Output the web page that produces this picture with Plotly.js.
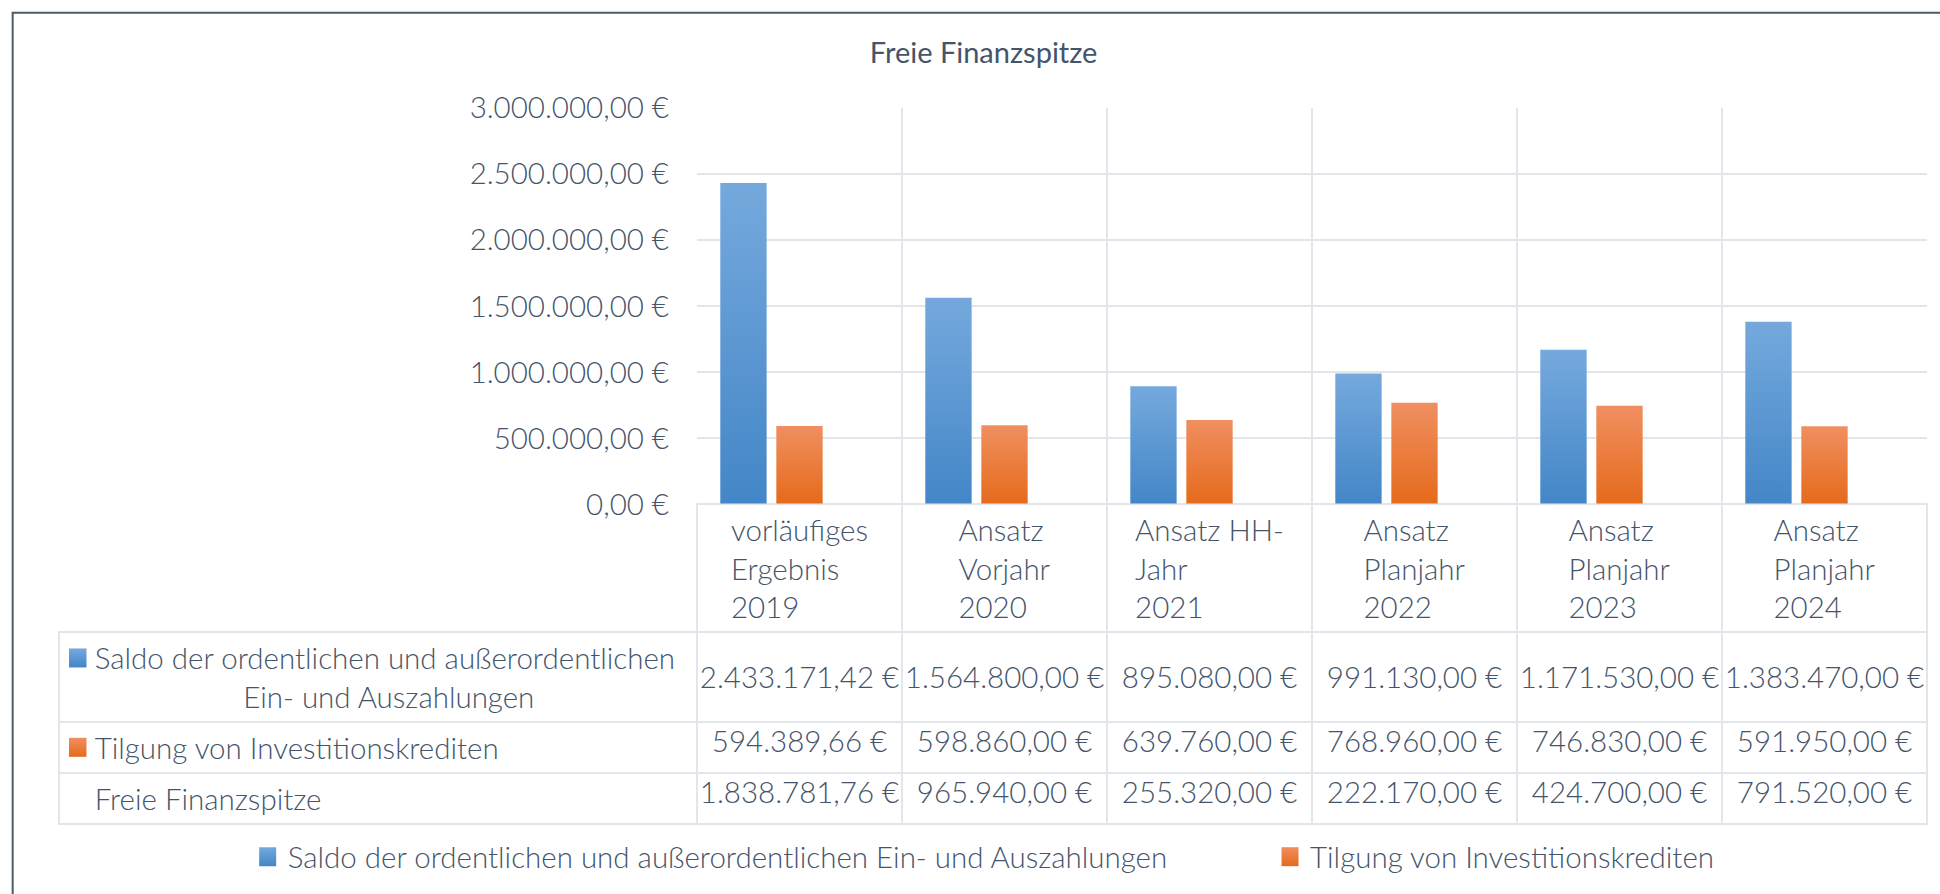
<!DOCTYPE html>
<html>
<head>
<meta charset="utf-8">
<script src="https://cdn.plot.ly/plotly-3.0.1.min.js"></script>
<style>
  html, body { margin: 0; padding: 0; background: #ffffff; }
  #chart { width: 1940px; height: 894px; }
</style>
</head>
<body>
<div id="chart"></div>
<script>
// ---------- data ----------
const categories = [
  'vorläufiges<br>Ergebnis<br>2019',
  'Ansatz<br>Vorjahr<br>2020',
  'Ansatz HH-<br>Jahr<br>2021',
  'Ansatz<br>Planjahr<br>2022',
  'Ansatz<br>Planjahr<br>2023',
  'Ansatz<br>Planjahr<br>2024'
];
const seriesNames = [
  'Saldo der ordentlichen und außerordentlichen Ein- und Auszahlungen',
  'Tilgung von Investitionskrediten',
  'Freie Finanzspitze'
];
const tableRowLabels = [
  ['Saldo der ordentlichen und außerordentlichen', 'Ein- und Auszahlungen'],
  ['Tilgung von Investitionskrediten'],
  ['Freie Finanzspitze']
];
const saldo   = [2433171.42, 1564800.00, 895080.00, 991130.00, 1171530.00, 1383470.00];
const tilgung = [594389.66, 598860.00, 639760.00, 768960.00, 746830.00, 591950.00];
const freie   = [1838781.76, 965940.00, 255320.00, 222170.00, 424700.00, 791520.00];
const yTickVals = [0, 500000, 1000000, 1500000, 2000000, 2500000, 3000000];
const chartTitle = 'Freie Finanzspitze';

// ---------- styles ----------
const FONT = 'Lato, "Open Sans", sans-serif';
const FS = 29.5;
const TXT = '#44546a';
const GRID = '#e2e6eb';
const BLUE = '#5b9bd5';
const ORANGE = '#ed7d31';
const NB = '\u00a0';

function fmtEUR(v) {
  const s = v.toFixed(2);
  let [i, d] = s.split('.');
  i = i.replace(/\B(?=(\d{3})+(?!\d))/g, '.');
  return i + ',' + d + NB + '€';
}

const keyColors = [BLUE, ORANGE, 'rgba(0,0,0,0)'];
const line2Indent = NB.repeat(22);
const rowLabelCells = tableRowLabels.map((lines, k) => {
  const key = '<span style="fill:' + keyColors[k] + '">■</span>' + NB + '\u200A';
  const l = lines.map(t => t.replace(/ /g, NB));
  return key + l[0] + (l.length > 1 ? '<br>' + line2Indent + l[1] : '<br>');
});

const seriesValues = [saldo, tilgung, freie];
const tableColumns = [rowLabelCells].concat(
  categories.map((c, j) => seriesValues.map(arr => fmtEUR(arr[j])))
);

const data = [
  {
    type: 'bar', name: seriesNames[0], x: categories, y: saldo,
    marker: { color: BLUE, line: { width: 0 } }, legend: 'legend',
    hoverinfo: 'skip'
  },
  {
    type: 'bar', name: seriesNames[1], x: categories, y: tilgung,
    marker: { color: ORANGE, line: { width: 0 } }, legend: 'legend2',
    hoverinfo: 'skip'
  },
  {
    type: 'bar', name: seriesNames[2], x: categories, y: freie,
    marker: { color: 'rgba(0,0,0,0)', line: { width: 0 } }, showlegend: false,
    hoverinfo: 'skip'
  },
  {
    type: 'table',
    domain: { x: [0, 1], y: [0, 0.45317] },
    columnwidth: [638, 205, 205, 205, 205, 205, 205],
    header: {
      values: [''].concat(categories),
      height: 128,
      align: 'center',
      fill: { color: 'rgba(0,0,0,0)' },
      line: { color: ['rgba(0,0,0,0)'].concat(categories.map(() => GRID)), width: 2 },
      font: { family: FONT, size: FS, color: TXT, weight: 300 }
    },
    cells: {
      values: tableColumns,
      height: 47,
      align: ['left'].concat(categories.map(() => 'center')),
      fill: { color: 'rgba(0,0,0,0)' },
      line: { color: GRID, width: 2 },
      font: { family: FONT, size: FS, color: TXT, weight: 300 }
    }
  }
];

const layout = {
  width: 1940, height: 894,
  margin: { l: 59, r: 13, t: 108, b: 60, pad: 0 },
  paper_bgcolor: '#ffffff', plot_bgcolor: 'rgba(0,0,0,0)',
  font: { family: FONT, size: FS, color: TXT, weight: 300 },
  title: {
    text: chartTitle, x: 0.507, xanchor: 'center', y: 0.9407, yanchor: 'middle',
    font: { family: FONT, size: 29, color: TXT, weight: 400 }
  },
  barmode: 'group', bargap: 0.18, bargroupgap: 0.173,
  xaxis: {
    domain: [0.34154, 1], type: 'category', tickson: 'boundaries',
    showgrid: true, gridcolor: GRID, gridwidth: 2,
    showticklabels: false, ticks: '', showline: false, zeroline: false, fixedrange: true
  },
  yaxis: {
    domain: [0.45317, 1], range: [0, 3000000],
    tickmode: 'array', tickvals: yTickVals, ticktext: yTickVals.map(fmtEUR),
    showgrid: true, gridcolor: GRID, gridwidth: 2,
    zeroline: true, zerolinecolor: GRID, zerolinewidth: 2,
    showline: false, ticks: '', ticklabelstandoff: 27,
    tickfont: { family: FONT, size: FS, color: TXT, weight: 300 }, fixedrange: true
  },
  legend: {
    orientation: 'h', x: 0.101, xanchor: 'left', y: -0.0317, yanchor: 'middle',
    font: { family: FONT, size: FS, color: TXT, weight: 300 }, bgcolor: 'rgba(0,0,0,0)'
  },
  legend2: {
    orientation: 'h', x: 0.6483, xanchor: 'left', y: -0.0317, yanchor: 'middle',
    font: { family: FONT, size: FS, color: TXT, weight: 300 }, bgcolor: 'rgba(0,0,0,0)'
  },
  shapes: [{
    type: 'rect', xref: 'paper', yref: 'paper',
    x0: -0.0248, x1: 1.2, y0: -0.2, y1: 1.1313,
    line: { color: '#4e5a6a', width: 2 }, fillcolor: 'rgba(0,0,0,0)', layer: 'below'
  }]
};

const gd = document.getElementById('chart');
const ns = 'http://www.w3.org/2000/svg';
const fills = ['url(#gBlue)', 'url(#gOrange)'];

function addGradients() {
  const svg = gd.querySelector('svg.main-svg');
  if (!svg || document.getElementById('gBlue')) return;
  let defs = svg.querySelector('defs');
  if (!defs) { defs = document.createElementNS(ns, 'defs'); svg.insertBefore(defs, svg.firstChild); }
  function grad(id, c1, c2) {
    const g = document.createElementNS(ns, 'linearGradient');
    g.setAttribute('id', id);
    g.setAttribute('x1', '0'); g.setAttribute('y1', '0');
    g.setAttribute('x2', '0'); g.setAttribute('y2', '1');
    [[0, c1], [1, c2]].forEach(([o, c]) => {
      const s = document.createElementNS(ns, 'stop');
      s.setAttribute('offset', o); s.setAttribute('stop-color', c);
      g.appendChild(s);
    });
    defs.appendChild(g);
  }
  grad('gBlue', '#75a9dd', '#4386c7');
  grad('gOrange', '#f08f60', '#e56a1b');
}

function styleMarks() {
  const traces = gd.querySelectorAll('.barlayer .trace');
  [0, 1].forEach(k => {
    if (traces[k]) traces[k].querySelectorAll('path').forEach(p => { p.style.fill = fills[k]; });
  });
  const lp = gd.querySelectorAll('.legendpoints path');
  lp.forEach((p, k) => {
    if (k < 2) {
      p.setAttribute('d', 'M8.5,9.5H-8.5V-9.5H8.5Z');
      p.style.fill = fills[k];
    }
  });
}

function fixTableKeys() {
  gd.querySelectorAll('text tspan').forEach(t => {
    if (t.textContent.trim() !== '■' || t.getAttribute('data-key')) return;
    const fc = getComputedStyle(t).fill;
    let g = null;
    if (fc.indexOf('91, 155, 213') >= 0) g = fills[0];
    else if (fc.indexOf('237, 125, 49') >= 0) g = fills[1];
    t.setAttribute('data-key', '1');
    if (!g) return;
    const bb = t.getBBox();
    const text = t.closest('text');
    const r = document.createElementNS(ns, 'rect');
    r.setAttribute('x', bb.x + 2);
    r.setAttribute('y', bb.y + bb.height / 2 - 9.5);
    r.setAttribute('width', 17.5);
    r.setAttribute('height', 19);
    if (text.getAttribute('transform')) r.setAttribute('transform', text.getAttribute('transform'));
    r.style.fill = g;
    text.parentNode.insertBefore(r, text);
    t.style.fillOpacity = '0';
  });
}

function shiftTallRowValues() {
  const tallRow = new Set(saldo.map(fmtEUR));
  gd.querySelectorAll('text').forEach(t => {
    if (tallRow.has(t.textContent.trim()) && !t.getAttribute('data-shift')) {
      t.setAttribute('data-shift', '1');
      t.setAttribute('transform', (t.getAttribute('transform') || '') + ' translate(0,25)');
    }
  });
}

function finish() {
  addGradients();
  styleMarks();
  shiftTallRowValues();
  fixTableKeys();
}

Plotly.newPlot(gd, data, layout, { staticPlot: true, displayModeBar: false }).then(() => {
  finish();
  requestAnimationFrame(() => { finish(); setTimeout(finish, 60); setTimeout(finish, 250); });
});
</script>
</body>
</html>
